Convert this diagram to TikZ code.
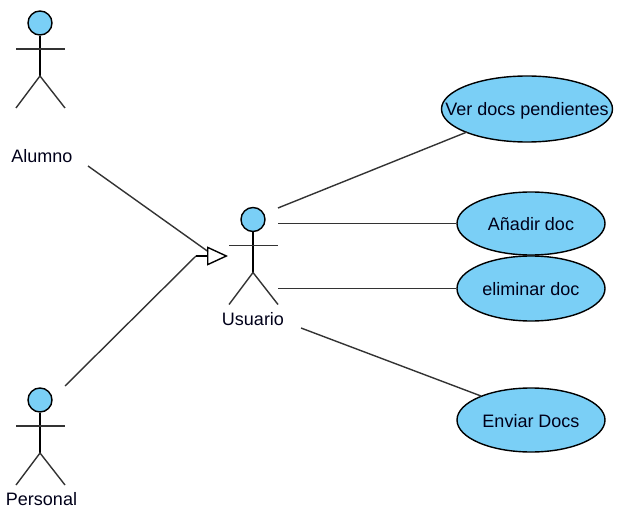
\documentclass[tikz,border=0pt]{standalone}
\usepackage{fontspec}
\setmainfont{Liberation Sans}
\usetikzlibrary{arrows.meta,shapes.geometric}
\definecolor{usecase}{HTML}{7ACFF6}
\begin{document}
\begin{tikzpicture}
  [x=1pt,y=-1pt,line width=1.4pt,font=\fontsize{18pt}{20pt}\selectfont,
   every node/.style={inner sep=0pt},
   head/.style={circle,draw=black,fill=usecase,minimum size=24pt},
   usecasenode/.style={ellipse,draw=black,fill=usecase,minimum width=#1,inner xsep=-25pt,
     text=black!90!blue,text height=17pt,text depth=3pt},
   caption/.style={text=black!90!blue,text height=17pt,text depth=3pt},
   link/.style={black!80}]
  \useasboundingbox (0,0) rectangle (620,510);
  % actors
  \foreach \name/\x/\y in {alumno/40/23,usuario/253/219.5,personal/40/400}{
    \node (\name)[head] at (\x,\y) {};
    \coordinate (\name hip) at (\x,\y+53);
    \coordinate (\name l) at (\x-24,\y+85);
    \coordinate (\name r) at (\x+25,\y+85);
    \coordinate (\name al) at (\x-24,\y+26);
    \coordinate (\name ar) at (\x+25,\y+26);
    \draw (\name) -- (\name hip);
    \draw[link] (\name al) -- (\name ar);
    \draw[link] (\name l) -- (\name hip) -- (\name r);
  }
  \node (t1)[caption] at (42,156) {Alumno};
  \node (t2)[caption] at (253,318.5) {Usuario};
  \node (t3)[caption] at (41.5,498) {Personal};
  % use cases
  \node (c1)[usecasenode=171pt,minimum height=66pt] at (527,109) {Ver docs pendientes};
  \node (c2)[usecasenode=148pt,minimum height=63pt] at (531,223.5) {Añadir doc};
  \node (c3)[usecasenode=148pt,minimum height=65pt] at (531,288.5) {eliminar doc};
  \node (c4)[usecasenode=148pt,minimum height=64pt] at (531,420) {Enviar Docs};
  % free ends
  \coordinate (a1) at (88,166);
  \coordinate (a2) at (208,251.5);
  \coordinate (p1) at (65,386);
  \coordinate (p2) at (196,256);
  \coordinate (tip) at (228,256);
  \coordinate (u1) at (278,208);
  \coordinate (u2) at (278,223.5);
  \coordinate (u3) at (278,288.5);
  \coordinate (u4) at (301,328);
  \coordinate (e1) at (467,132);
  \coordinate (e4) at (481,396);
  \foreach \from/\to in {a1/a2,p1/p2,u1/e1,u2/c2,u3/c3,u4/e4}
    \draw[link] (\from) -- (\to);
  \draw[-{Triangle[open,length=21pt,width=19pt]}] (p2) -- (tip);
\end{tikzpicture}
\end{document}
